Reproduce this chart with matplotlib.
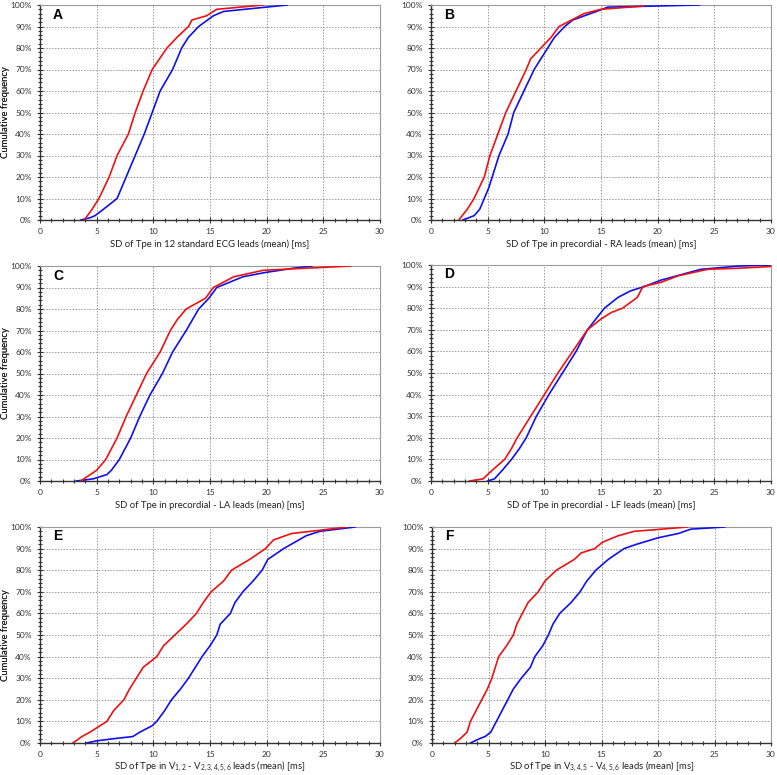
import numpy as np
import matplotlib
matplotlib.use('Agg')
import matplotlib.pyplot as plt
from matplotlib.ticker import MultipleLocator, FuncFormatter

plt.rcParams['font.family'] = ['Lato', 'DejaVu Sans']
plt.rcParams['mathtext.fontset'] = 'custom'
plt.rcParams['mathtext.rm'] = 'Lato'
plt.rcParams['mathtext.it'] = 'Lato'

# cumulative frequency (%) at which the x values below were read
A_red_y = [0, 5, 10, 20, 30, 35, 40, 45, 50, 60, 70, 80, 85, 90, 93, 95, 98, 100]
A_red_x = [3.9, 4.6, 5.2, 6.1, 6.8, 7.3, 7.8, 8.1, 8.4, 9.1, 9.9, 11.2, 12.1, 13.1, 13.4, 14.7, 15.6, 19.7]
A_blue_y = [0, 1, 2, 5, 10, 20, 30, 40, 50, 60, 70, 80, 85, 90, 95, 97, 100]
A_blue_x = [3.6, 4.4, 4.85, 5.6, 6.8, 7.6, 8.4, 9.2, 9.9, 10.6, 11.7, 12.5, 13.1, 14.0, 15.3, 16.2, 21.8]

B_red_y = [0, 5, 10, 20, 30, 40, 50, 60, 70, 75, 80, 85, 90, 93, 96, 98, 99.5]
B_red_x = [2.45, 3.2, 3.8, 4.7, 5.2, 5.9, 6.6, 7.5, 8.4, 8.8, 9.7, 10.6, 11.3, 12.4, 13.5, 15.0, 18.7]
B_blue_y = [0, 2, 5, 10, 15, 20, 30, 40, 50, 60, 70, 80, 85, 90, 93, 95.5, 97, 99, 100]
B_blue_x = [2.8, 3.8, 4.3, 4.7, 5.1, 5.4, 6.0, 6.8, 7.3, 8.2, 9.1, 10.3, 10.9, 11.8, 12.5, 13.8, 14.6, 15.6, 23.7]

C_red_y = [0, 5, 10, 20, 30, 40, 50, 60, 70, 75, 80, 85, 90, 95, 98, 100]
C_red_x = [3.6, 5.0, 5.8, 6.8, 7.6, 8.5, 9.4, 10.6, 11.5, 12.1, 12.9, 14.6, 15.3, 17.1, 19.7, 27.4]
C_blue_y = [0, 1, 3, 5, 10, 20, 30, 40, 50, 60, 70, 80, 85, 90, 95, 97, 99, 100]
C_blue_x = [3.2, 4.7, 5.9, 6.3, 7.0, 8.0, 8.8, 9.7, 10.8, 11.7, 12.9, 14.0, 14.9, 15.6, 17.9, 19.9, 22.4, 24.0]

D_red_y = [0, 1, 5, 10, 15, 20, 30, 40, 50, 60, 70, 75, 78, 80, 85, 90, 92, 95, 98, 98.5, 99.3]
D_red_x = [3.4, 4.6, 5.4, 6.5, 7.1, 7.6, 8.8, 10.0, 11.2, 12.5, 13.8, 15.0, 15.9, 16.9, 18.2, 18.7, 20.3, 21.8, 24.4, 27.1, 30.0]
D_blue_y = [0, 1, 5, 10, 15, 20, 30, 40, 50, 60, 70, 80, 85, 88, 90, 93, 96, 98, 99.5, 100]
D_blue_x = [5.0, 5.6, 6.3, 7.1, 7.8, 8.4, 9.3, 10.4, 11.6, 12.8, 13.8, 15.3, 16.5, 17.6, 18.8, 20.3, 22.4, 23.8, 27.1, 30.0]

E_red_y = [0, 3, 5, 7, 10, 15, 20, 25, 30, 35, 40, 45, 50, 55, 60, 65, 70, 75, 80, 85, 90, 94, 97, 98.5, 100]
E_red_x = [2.9, 3.7, 4.4, 5.0, 5.9, 6.5, 7.4, 7.9, 8.5, 9.1, 10.3, 10.9, 11.9, 12.9, 13.8, 14.4, 15.1, 16.2, 16.9, 18.5, 19.9, 20.6, 22.2, 24.7, 27.1]
E_blue_y = [0, 1, 2, 3, 5, 8, 10, 15, 20, 25, 30, 35, 40, 45, 50, 55, 60, 65, 70, 75, 80, 85, 90, 93, 96, 98, 100]
E_blue_x = [4.1, 5.0, 6.5, 8.2, 8.8, 9.9, 10.3, 11.0, 11.6, 12.4, 13.1, 13.7, 14.3, 15.0, 15.6, 15.9, 16.8, 17.2, 17.9, 18.8, 19.6, 20.1, 21.5, 22.5, 23.5, 24.7, 27.8]

F_red_y = [0, 2, 5, 10, 15, 20, 25, 30, 35, 40, 45, 50, 55, 60, 65, 70, 75, 80, 85, 88, 90, 93, 96, 98, 99, 100]
F_red_x = [2.0, 2.5, 3.1, 3.4, 3.9, 4.4, 4.9, 5.3, 5.6, 5.9, 6.6, 7.2, 7.5, 8.0, 8.5, 9.4, 10.0, 11.0, 12.6, 13.2, 14.4, 15.1, 16.5, 17.9, 20.3, 22.6]
F_blue_y = [0, 2, 3, 5, 10, 15, 20, 25, 30, 35, 40, 45, 50, 55, 60, 65, 70, 75, 80, 85, 90, 92, 95, 97, 99, 100]
F_blue_x = [3.4, 4.2, 4.7, 5.2, 5.7, 6.2, 6.7, 7.2, 7.9, 8.7, 9.1, 9.8, 10.3, 10.7, 11.3, 12.3, 13.1, 13.7, 14.5, 15.6, 17.0, 18.1, 20.0, 21.8, 22.9, 25.9]

panels = [
    ('A', 'SD of Tpe in 12 standard ECG leads (mean) [ms]', A_red_x, A_red_y, A_blue_x, A_blue_y),
    ('B', 'SD of Tpe in precordial - RA leads (mean) [ms]', B_red_x, B_red_y, B_blue_x, B_blue_y),
    ('C', 'SD of Tpe in precordial - LA leads (mean) [ms]', C_red_x, C_red_y, C_blue_x, C_blue_y),
    ('D', 'SD of Tpe in precordial - LF leads (mean) [ms]', D_red_x, D_red_y, D_blue_x, D_blue_y),
    ('E', r'SD of Tpe in V$_{1,2}$ - V$_{2,3,4,5,6}$ leads (mean) [ms]', E_red_x, E_red_y, E_blue_x, E_blue_y),
    ('F', r'SD of Tpe in V$_{3,4,5}$ - V$_{4,5,6}$ leads (mean) [ms]', F_red_x, F_red_y, F_blue_x, F_blue_y),
]

# axes boxes in pixels: left, top, right, bottom; xlabel baseline offset
boxes = [(40, 5, 380, 220, 27), (431, 5, 771, 220, 27),
         (40, 266, 380, 481, 27), (431, 265, 771, 481, 27),
         (40, 527, 380, 743, 26.5), (432, 527, 771, 743, 26.5)]

W, H = 777, 775
fig = plt.figure(figsize=(W / 100, H / 100), dpi=100)

for (letter, xlabel, rx, ry, bx, by), (l, t, r, b, off) in zip(panels, boxes):
    ax = fig.add_axes([l / W, 1 - b / H, (r - l) / W, (b - t) / H])
    ax.plot(bx, by, color='#1010ee', lw=1.2, zorder=3)
    ax.plot(rx, ry, color='#ee1111', lw=1.2, zorder=3)
    ax.set_xlim(0, 30)
    ax.set_ylim(0, 100)
    ax.xaxis.set_major_locator(MultipleLocator(5))
    ax.xaxis.set_minor_locator(MultipleLocator(1))
    ax.yaxis.set_major_locator(MultipleLocator(10))
    ax.yaxis.set_minor_locator(MultipleLocator(2))
    ax.yaxis.set_major_formatter(FuncFormatter(lambda v, p: '%d%%' % v))
    ax.grid(True, which='major', color='#9a9a9a', linestyle=(0, (1.5, 1.5)), lw=0.7)
    ax.tick_params(which='both', direction='inout', labelsize=6, colors='#333333', length=4, width=0.8)
    ax.tick_params(which='minor', length=3)
    ax.tick_params(axis='x', pad=4)
    ax.tick_params(axis='y', pad=4)
    for s in ['top', 'right']:
        ax.spines[s].set_color('#9a9a9a')
    for s in ['left', 'bottom']:
        ax.spines[s].set_color('#333333')
        ax.spines[s].set_linewidth(1.0)
    ax.set_xlabel(xlabel, fontsize=6.8, color='#222222', va='baseline')
    ax.xaxis.set_label_coords(0.5, -off / (b - t), transform=ax.transAxes)
    ax.set_ylabel('Cumulative frequency', fontsize=6.8, color='#222222')
    ax.yaxis.set_label_coords(-(l - 10) / (r - l), 0.5)
    ax.text(13 / (r - l), 1 - 2.5 / (b - t), letter, transform=ax.transAxes, fontsize=10,
            fontweight='bold', ha='left', va='top', family=['Liberation Sans'])

fig.savefig('out.png', dpi=100)
